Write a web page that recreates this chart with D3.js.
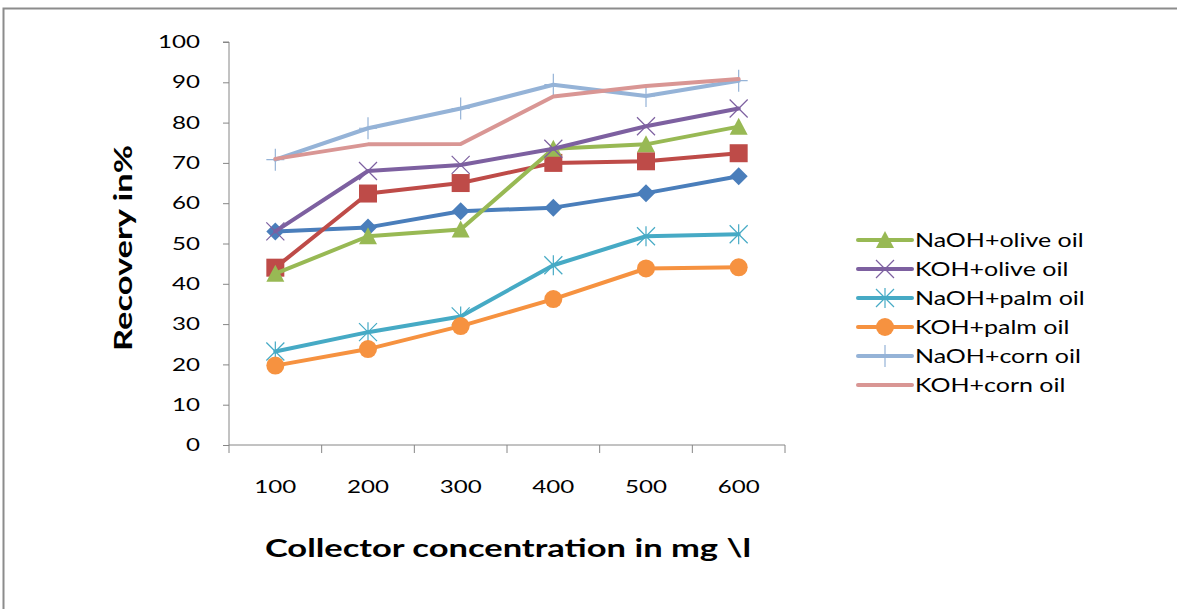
<!DOCTYPE html>
<html lang="en">
<head>
  <meta charset="UTF-8">
  <title>Recovery vs collector concentration</title>
  <script src="https://d3js.org/d3.v7.min.js"></script>
  <style>
    body { margin: 0; background: #fff; }
  </style>
</head>
<body>
  <svg id="chart"></svg>
  <script>
    const concentrations = ["100", "200", "300", "400", "500", "600"];
    const yTicks = [0, 10, 20, 30, 40, 50, 60, 70, 80, 90, 100];

    const seriesNames = ["Series 1", "Series 2", "NaOH+olive oil", "KOH+olive oil",
      "NaOH+palm oil", "KOH+palm oil", "NaOH+corn oil", "KOH+corn oil"];
    const seriesColors = ["#4a7ebb", "#be4b48", "#98b954", "#7d60a0",
      "#46aac5", "#f69240", "#95b3d7", "#d99694"];
    const seriesMarkers = ["diamond", "square", "triangle", "x", "star", "circle", "plus", "none"];

    const series1 = [53, 54, 58, 58.9, 62.5, 66.7];
    const series2 = [44, 62.4, 65, 70, 70.4, 72.4];
    const naohOlive = [42.5, 51.8, 53.5, 73.5, 74.6, 79];
    const kohOlive = [53, 68, 69.5, 73.5, 79.1, 83.5];
    const naohPalm = [23.2, 28, 31.9, 44.6, 51.8, 52.3];
    const kohPalm = [19.7, 23.8, 29.5, 36.2, 43.8, 44.1];
    const naohCorn = [70.8, 78.6, 83.5, 89.4, 86.6, 90.4];
    const kohCorn = [71, 74.6, 74.7, 86.5, 89.1, 90.8];

    const allValues = [series1, series2, naohOlive, kohOlive, naohPalm, kohPalm, naohCorn, kohCorn];
    const legendShown = [2, 3, 4, 5, 6, 7];

    const width = 1177, height = 609;
    const margin = { top: 42, right: 392, bottom: 164, left: 229 };
    const font = "Lato, 'Open Sans', sans-serif";
    const stretch = 1.38; // the picture's text is wider than it is tall

    const svg = d3.select("#chart")
      .attr("width", width)
      .attr("height", height)
      .style("display", "block");

    // chart frame
    svg.append("rect")
      .attr("x", 3.5).attr("y", 8.5)
      .attr("width", 1300).attr("height", 800)
      .attr("fill", "none").attr("stroke", "#8c8c8c").attr("stroke-width", 2);

    const xScale = d3.scaleBand()
      .domain(concentrations)
      .range([margin.left, width - margin.right]);

    const yScale = d3.scaleLinear()
      .domain([0, 100])
      .range([height - margin.bottom, margin.top]);

    function widen(sel) {
      sel.each(function () {
        const t = d3.select(this);
        const x = +t.attr("x") || 0;
        t.attr("x", 0).attr("transform", `translate(${x},0) scale(${stretch},1)`);
      });
    }

    // y axis
    const yAxis = svg.append("g")
      .attr("transform", `translate(${margin.left},0)`)
      .call(d3.axisLeft(yScale).tickValues(yTicks).tickSize(6).tickPadding(23));
    yAxis.select(".domain").attr("stroke", "#868686").attr("d", `M-6,${yScale(100)}H0V${yScale(0)}`);
    yAxis.selectAll(".tick line").attr("stroke", "#868686");
    yAxis.selectAll("text").attr("font-family", font).attr("font-size", 17.5).attr("fill", "#000").call(widen);

    // x axis
    const xAxis = svg.append("g")
      .attr("transform", `translate(0,${yScale(0)})`)
      .call(d3.axisBottom(xScale).tickSize(0).tickPadding(36));
    xAxis.select(".domain").attr("stroke", "#868686").attr("d", `M${margin.left},0H${width - margin.right}`);
    xAxis.selectAll("text").attr("font-family", font).attr("font-size", 17.5).attr("fill", "#000").call(widen);
    const bounds = d3.range(concentrations.length + 1)
      .map(i => margin.left + i * xScale.bandwidth());
    xAxis.selectAll(".sep")
      .data(bounds)
      .enter().append("line")
      .attr("x1", d => d).attr("x2", d => d)
      .attr("y1", 0).attr("y2", 8)
      .attr("stroke", "#868686");

    // axis titles
    svg.append("text")
      .attr("transform", `translate(132,248) rotate(-90) scale(${stretch},1)`)
      .attr("text-anchor", "middle")
      .attr("font-family", font).attr("font-weight", "bold").attr("font-size", 25)
      .text("Recovery in%");

    svg.append("text")
      .attr("transform", `translate(508,557) scale(${stretch},1)`)
      .attr("text-anchor", "middle")
      .attr("font-family", font).attr("font-weight", "bold").attr("font-size", 25)
      .text("Collector concentration in mg \\l");

    const cx = c => xScale(c) + xScale.bandwidth() / 2;

    function drawMarker(g, type, x, y, color) {
      if (type === "diamond") {
        g.append("path").attr("d", `M${x},${y - 9}L${x + 9},${y}L${x},${y + 9}L${x - 9},${y}Z`)
          .attr("fill", color);
      } else if (type === "square") {
        g.append("rect").attr("x", x - 9).attr("y", y - 9).attr("width", 18).attr("height", 18)
          .attr("fill", color);
      } else if (type === "triangle") {
        g.append("path").attr("d", `M${x},${y - 9}L${x + 9},${y + 8}L${x - 9},${y + 8}Z`)
          .attr("fill", color);
      } else if (type === "circle") {
        g.append("circle").attr("cx", x).attr("cy", y).attr("r", 9).attr("fill", color);
      } else if (type === "x") {
        g.append("path").attr("d", `M${x - 9},${y - 9}L${x + 9},${y + 9}M${x - 9},${y + 9}L${x + 9},${y - 9}`)
          .attr("stroke", color).attr("stroke-width", 1.2);
      } else if (type === "star") {
        g.append("path").attr("d", `M${x - 9},${y - 9}L${x + 9},${y + 9}M${x - 9},${y + 9}L${x + 9},${y - 9}M${x},${y - 10}V${y + 10}`)
          .attr("stroke", color).attr("stroke-width", 1.2);
      } else if (type === "plus") {
        g.append("path").attr("d", `M${x},${y - 11}V${y + 11}M${x - 9},${y}H${x + 9}`)
          .attr("stroke", color).attr("stroke-width", 1.2);
      }
    }

    const line = d3.line()
      .x((d, i) => cx(concentrations[i]))
      .y(d => yScale(d));

    allValues.forEach((vals, s) => {
      const g = svg.append("g");
      g.append("path")
        .datum(vals)
        .attr("d", line)
        .attr("fill", "none")
        .attr("stroke", seriesColors[s])
        .attr("stroke-width", 4)
        .attr("stroke-linejoin", "round")
        .attr("stroke-linecap", "round");
      vals.forEach((v, i) => drawMarker(g, seriesMarkers[s], cx(concentrations[i]), yScale(v), seriesColors[s]));
    });

    // legend
    const legend = svg.append("g").attr("transform", "translate(858,240)");
    legendShown.forEach((s, i) => {
      const row = legend.append("g").attr("transform", `translate(0,${i * 29})`);
      row.append("line")
        .attr("x1", 0).attr("x2", 54).attr("y1", 0).attr("y2", 0)
        .attr("stroke", seriesColors[s]).attr("stroke-width", 4)
        .attr("stroke-linecap", "round");
      drawMarker(row, seriesMarkers[s], 27, 0, seriesColors[s]);
      row.append("text")
        .attr("transform", "translate(57,0) scale(1.25,1)")
        .attr("dy", "0.35em")
        .attr("font-family", font).attr("font-size", 20)
        .text(seriesNames[s]);
    });
  </script>
</body>
</html>
